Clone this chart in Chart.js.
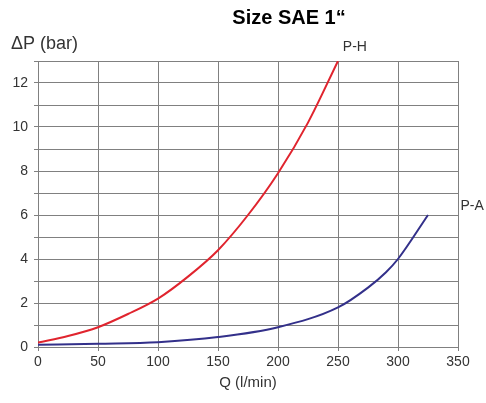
<!DOCTYPE html>
<html>
<head>
<meta charset="utf-8">
<script src="https://cdn.jsdelivr.net/npm/chart.js@4.4.0/dist/chart.umd.min.js"></script>
<style>
  html, body { margin: 0; padding: 0; background: #fff; }
  #wrap { width: 486px; height: 403px; }
</style>
</head>
<body>
<div id="wrap"><canvas id="chart" width="486" height="403"></canvas></div>
<script>
// dati
const flowPH = [0, 25, 50, 75, 100, 125, 150, 175, 200, 225, 250];
const dpPH   = [0.2, 0.5, 0.9, 1.5, 2.2, 3.2, 4.4, 6.0, 7.9, 10.2, 13.0];

const flowPA = [0, 50, 100, 150, 200, 250, 275, 290, 300, 325];
const dpPA   = [0.1, 0.15, 0.22, 0.45, 0.9, 1.8, 2.7, 3.4, 4.0, 6.0];

const xTicks = [0, 50, 100, 150, 200, 250, 300, 350];
const yLabels = [0, 2, 4, 6, 8, 10, 12];

const FONT = "'Liberation Sans', Arial, sans-serif";

function toPoints(xs, ys) {
    return xs.map((x, i) => ({ x: x, y: ys[i] }));
}

// testi extra: titolo, etichette curve, titolo asse y
const labelsPlugin = {
    id: "labels",
    afterDraw(chart) {
        const ctx = chart.ctx;
        const xs = chart.scales.x;
        const ys = chart.scales.y;
        ctx.save();
        ctx.fillStyle = "#000";
        ctx.font = "bold 20px " + FONT;
        ctx.textAlign = "center";
        ctx.textBaseline = "middle";
        ctx.fillText("Size SAE 1\u201C", 289, 18);

        ctx.fillStyle = "#333";
        ctx.font = "18px " + FONT;
        ctx.textAlign = "left";
        ctx.fillText("\u0394P (bar)", 11, 44);

        ctx.font = "14px " + FONT;
        ctx.fillText("P-H", xs.getPixelForValue(254), ys.getPixelForValue(13) - 14);
        ctx.fillText("P-A", xs.getPixelForValue(352), ys.getPixelForValue(6.4));
        ctx.restore();
    }
};

const ctx = document.getElementById("chart").getContext("2d");
new Chart(ctx, {
    type: "scatter",
    data: {
        datasets: [
            {
                label: "P-H",
                data: toPoints(flowPH, dpPH),
                showLine: true,
                borderColor: "#e0242e",
                borderWidth: 2,
                pointRadius: 0,
                cubicInterpolationMode: "monotone"
            },
            {
                label: "P-A",
                data: toPoints(flowPA, dpPA),
                showLine: true,
                borderColor: "#33308a",
                borderWidth: 2,
                pointRadius: 0,
                cubicInterpolationMode: "monotone"
            }
        ]
    },
    options: {
        responsive: false,
        animation: false,
        layout: { padding: { left: 0, right: 28, top: 61, bottom: 11 } },
        plugins: {
            legend: { display: false },
            tooltip: { enabled: false }
        },
        scales: {
            x: {
                type: "linear",
                min: 0,
                max: 350,
                afterFit(scale) { scale.height = 45; },
                afterBuildTicks(scale) {
                    scale.ticks = xTicks.map(v => ({ value: v }));
                },
                grid: { color: "#808080", lineWidth: 1, tickLength: 4 },
                border: { color: "#808080" },
                ticks: { color: "#333", font: { family: FONT, size: 14 }, padding: 3, maxRotation: 0 },
                title: {
                    display: true,
                    text: "Q (l/min)",
                    color: "#333",
                    font: { family: FONT, size: 15 },
                    padding: { top: 2, bottom: 0 }
                }
            },
            y: {
                min: 0,
                max: 13,
                afterFit(scale) { scale.width = 38; },
                grid: { color: "#808080", lineWidth: 1, tickLength: 4 },
                border: { color: "#808080" },
                ticks: {
                    stepSize: 1,
                    color: "#333",
                    font: { family: FONT, size: 14 },
                    padding: 6,
                    callback: v => yLabels.includes(v) ? v : ""
                }
            }
        }
    },
    plugins: [labelsPlugin]
});
</script>
</body>
</html>
